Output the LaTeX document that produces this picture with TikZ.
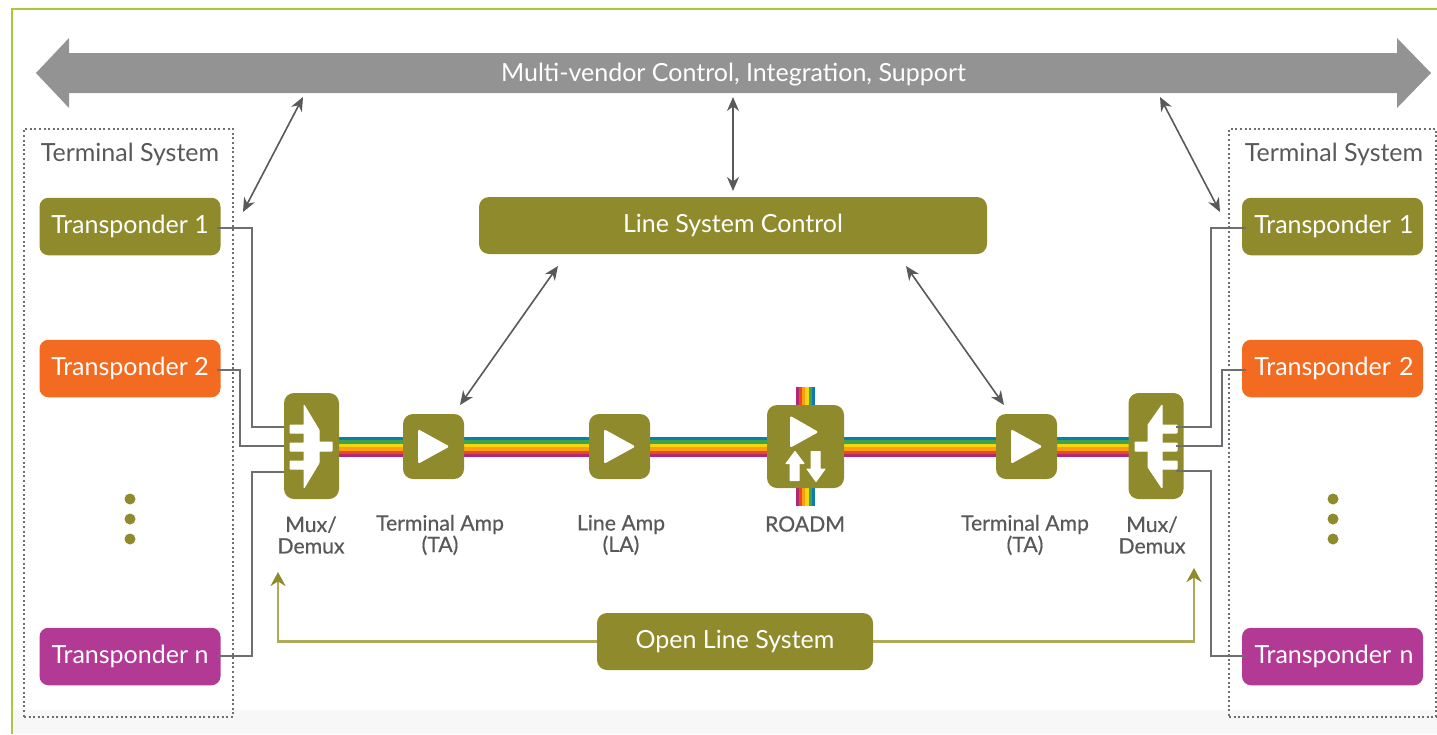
\documentclass[tikz,border=0pt]{standalone}
\usepackage{fontspec}
\setmainfont{Lato}
\newfontfamily\lblfont[FakeBold=0.5]{Lato}
\usetikzlibrary{arrows.meta}
\definecolor{olive}{HTML}{8F8A2B}
\definecolor{olivelt}{HTML}{ADAA58}
\definecolor{orng}{HTML}{F26B21}
\definecolor{mgnt}{HTML}{B23A95}
\definecolor{busgray}{HTML}{939393}
\definecolor{txtgray}{HTML}{58595B}
\definecolor{linegray}{HTML}{6D6E71}
\definecolor{frame}{HTML}{A9C93B}
\definecolor{rbA}{HTML}{0A7DAE}
\definecolor{rbB}{HTML}{3FA34D}
\definecolor{rbC}{HTML}{F7D60F}
\definecolor{rbD}{HTML}{F8A012}
\definecolor{rbE}{HTML}{EC4A1C}
\definecolor{rbF}{HTML}{B0287A}
\tikzset{
  box/.style={rounded corners=9pt,inner sep=0pt,text=white,font=\fontsize{25}{28}\selectfont,anchor=center},
  tpbox/.style={box,minimum width=181pt,minimum height=57.5pt},
  devbox/.style={box,fill=olive,rounded corners=10pt},
  wire/.style={draw=linegray,line width=2pt},
  twoway/.style={draw=txtgray,line width=1.6pt,{Stealth[length=14pt,width=12pt]}-{Stealth[length=14pt,width=12pt]}},
  oliveline/.style={draw=olivelt,line width=2.4pt,-{Stealth[length=14pt,width=15pt,color=olive]}},
  dotbox/.style={draw=linegray,line width=1.4pt,dash pattern=on 2pt off 2.6pt},
  syslabel/.style={text=txtgray,font=\fontsize{25}{28}\selectfont,inner sep=0pt},
  devlabel/.style={text=txtgray,font=\lblfont\fontsize{21.2}{21.5}\selectfont,align=center,inner sep=0pt},
  glyph/.style={fill=white,draw=white,line width=1pt,line join=round},
  dotmark/.style={circle,fill=olive,minimum size=11pt,inner sep=0pt},
}
\begin{document}
\begin{tikzpicture}[x=1pt,y=-1pt]
\useasboundingbox (0,0) rectangle (1437,734);
\fill[white] (0,0) rectangle (1437,734);
\fill[black!3] (14,710) rectangle (1437,734);
\draw[frame,line width=2.4pt] (1437,9) -- (12,9) -- (12,734);

% terminal systems
\node[dotbox,minimum width=209pt,minimum height=588pt,inner sep=0pt] (tsL) at (128.5,423) {};
\node[dotbox,minimum width=207pt,minimum height=588pt,inner sep=0pt] (tsR) at (1332.5,423) {};
\node[syslabel] (tsLt) at (130,154.5) {Terminal System};
\node[syslabel] (tsRt) at (1334,154.5) {Terminal System};

% bus
\fill[busgray] (36,73) -- (69,38) -- (69,53) -- (1397,53) -- (1397,38) -- (1431,73) -- (1397,108) -- (1397,93) -- (69,93) -- (69,108) -- cycle;
\node[text=white,font=\fontsize{25}{28}\selectfont,inner sep=0pt] (bus) at (733.5,75) {Multi-vendor Control, Integration, Support};

% rainbow line
\foreach \c [count=\i from 0] in {rbA,rbB,rbC,rbD,rbE,rbF}{
  \fill[\c] (339,{437+\i*3.4}) rectangle (1129,{437+(\i+1)*3.4});
  \fill[\c] ({815-\i*3.2},387) rectangle ({815-(\i+1)*3.2},506);
}

% transponders
\node[tpbox,fill=olive] (tpa) at (130,226.5) {Transponder 1};
\node[tpbox,fill=orng] (tpb) at (130,368.5) {Transponder 2};
\node[tpbox,fill=mgnt] (tpc) at (130,656.5) {Transponder n};
\node[tpbox,fill=olive,text width=181pt,align=center] (tqa) at (1332.5,226.5) {\hspace*{3pt}Transponder 1};
\node[tpbox,fill=orng,text width=181pt,align=center] (tqb) at (1332.5,368.5) {\hspace*{3pt}Transponder 2};
\node[tpbox,fill=mgnt,text width=181pt,align=center] (tqc) at (1332.5,656.5) {\hspace*{3pt}Transponder n};
\foreach \n/\y in {a/499,b/519,c/539}{
  \node[dotmark] (dl\n) at (130,\y) {};
  \node[dotmark] (dr\n) at (1333,\y) {};
}

% control boxes
\node[devbox,minimum width=508pt,minimum height=57pt] (lsc) at (733,225.5) {Line System Control};
\node[devbox,minimum width=276pt,minimum height=57pt] (ols) at (735,641.5) {Open Line System};

% devices
\node[devbox,minimum width=55pt,minimum height=106pt] (muxL) at (311.5,446) {};
\node[devbox,minimum width=55pt,minimum height=106pt] (muxR) at (1156,446) {};
\node[devbox,minimum width=61pt,minimum height=65pt] (taL) at (433.5,446.5) {};
\node[devbox,minimum width=61pt,minimum height=65pt] (la) at (619.5,446.5) {};
\node[devbox,minimum width=77pt,minimum height=83pt] (roadm) at (805.5,446.5) {};
\node[devbox,minimum width=61pt,minimum height=65pt] (taR) at (1026.5,446.5) {};

% glyphs
\foreach \m in {taL,la,taR}{
  \fill[glyph,rounded corners=1pt] (\m) ++(-15,-16.5) -- ++(30,16.5) -- ++(-30,16.5) -- cycle;
}
\fill[glyph,rounded corners=0.5pt] (304,405) -- (319,430) -- (319,442) -- (332,442) -- (332,451) -- (319,451) -- (319,463) -- (304,488) -- (304,469) -- (290,469) -- (290,461) -- (304,461) -- (304,451) -- (290,451) -- (290,443) -- (304,443) -- (304,433) -- (290,433) -- (290,425) -- (304,425) -- cycle;
\fill[glyph,rounded corners=0.5pt] (1162,405) -- (1148,425) -- (1148,442) -- (1135,442) -- (1135,451) -- (1148,451) -- (1148,467) -- (1162,488) -- (1162,469) -- (1177,469) -- (1177,461) -- (1162,461) -- (1162,451) -- (1177,451) -- (1177,443) -- (1162,443) -- (1162,433) -- (1177,433) -- (1177,425) -- (1162,425) -- cycle;
\fill[glyph,rounded corners=1pt] (790.5,416.5) -- (817.5,432) -- (790.5,447) -- cycle;
\fill[glyph] (795,451.5) -- (804,463.5) -- (799,463.5) -- (799,480.5) -- (790,480.5) -- (790,463.5) -- (786,463.5) -- cycle;
\fill[glyph] (816,481.5) -- (825,469) -- (820,469) -- (820,451.5) -- (811,451.5) -- (811,469) -- (807,469) -- cycle;

% wires
\coordinate (la1) at (284,427); \coordinate (la2) at (284,446); \coordinate (la3) at (284,472);
\coordinate (ra1) at (1176,427); \coordinate (ra2) at (1176,446); \coordinate (ra3) at (1176,471);
\coordinate (sa) at (217,227.5); \coordinate (sb) at (217,370); \coordinate (sc) at (217,656);
\coordinate (ua) at (1246,228); \coordinate (ub) at (1246,370); \coordinate (uc) at (1246,656);
\draw[wire] (sa) -- (252,227.5) -- (252,427) -- (la1);
\draw[wire] (sb) -- (240,370) -- (240,446) -- (la2);
\draw[wire] (sc) -- (252,656) -- (252,472) -- (la3);
\draw[wire] (ua) -- (1211,228) -- (1211,427) -- (ra1);
\draw[wire] (ub) -- (1222,370) -- (1222,446) -- (ra2);
\draw[wire] (uc) -- (1211,656) -- (1211,471) -- (ra3);

% two-way arrows
\coordinate (b1) at (303,97); \coordinate (c1) at (243,212);
\coordinate (b2) at (733,97); \coordinate (c2) at (733,191);
\coordinate (b3) at (1160,97); \coordinate (c3) at (1220,212);
\coordinate (d1) at (558,266); \coordinate (e1) at (460,405);
\coordinate (d2) at (906,266); \coordinate (e2) at (1004,405);
\draw[twoway] (b1) -- (c1);
\draw[twoway] (b2) -- (c2);
\draw[twoway] (b3) -- (c3);
\draw[twoway] (d1) -- (e1);
\draw[twoway] (d2) -- (e2);

% open line system arrows
\coordinate (fl) at (278,572); \coordinate (fr) at (1194,568);
\draw[oliveline] (ols.west) -- (278,641.5) -- (fl);
\draw[oliveline] (ols.east) -- (1194,641.5) -- (fr);

% labels
\node[devlabel] (muxLt) at (311,535) {Mux/\\Demux};
\node[devlabel] (taLt) at (440,535) {Terminal Amp\\(TA)};
\node[devlabel] (lat) at (621,535) {Line Amp\\(LA)};
\node[devlabel] (roadmt) at (805,524) {ROADM};
\node[devlabel] (taRt) at (1025,535) {Terminal Amp\\(TA)};
\node[devlabel] (muxRt) at (1152,535) {Mux/\\Demux};
\end{tikzpicture}
\end{document}
